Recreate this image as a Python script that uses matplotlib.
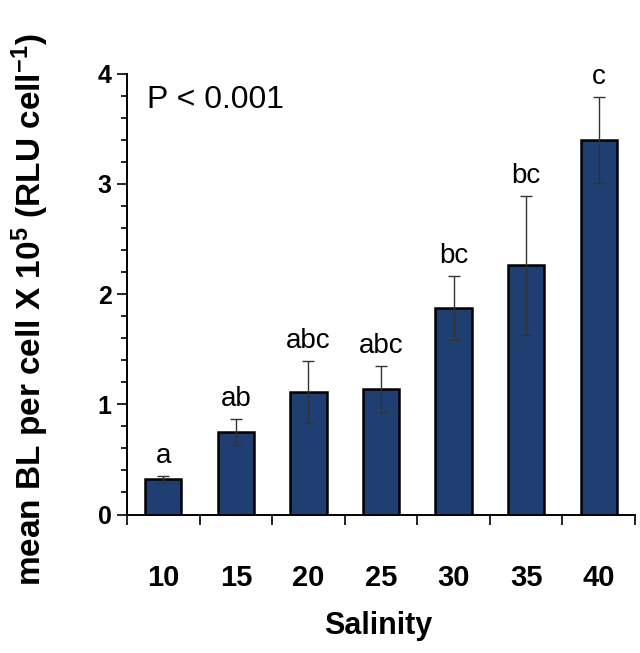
import matplotlib
import matplotlib.pyplot as plt
import numpy as np
from matplotlib.ticker import MultipleLocator

matplotlib.use("Agg")
plt.rcParams["mathtext.default"] = "regular"

salinity = ["10", "15", "20", "25", "30", "35", "40"]
mean_bl = [0.32, 0.75, 1.11, 1.14, 1.87, 2.26, 3.40]
err_bl = [0.03, 0.12, 0.28, 0.21, 0.29, 0.63, 0.39]
groups = ["a", "ab", "abc", "abc", "bc", "bc", "c"]

narrow = ["Liberation Sans Narrow", "Liberation Sans", "DejaVu Sans"]
plain = ["Liberation Sans", "DejaVu Sans"]

fig = plt.figure(figsize=(6.4, 6.53), dpi=100)
ax = fig.add_axes([127 / 640, 1 - 514.5 / 653, 508 / 640, 441 / 653])

x = np.arange(len(salinity))
ax.bar(x, mean_bl, width=0.5, color="#1f3f73", edgecolor="black", linewidth=1.8, zorder=2)
ax.errorbar(x, mean_bl, yerr=err_bl, fmt="none", ecolor="#333333", elinewidth=1.0,
            capsize=4, capthick=1.0, zorder=3)

for xi, m, e, g in zip(x, mean_bl, err_bl, groups):
    ax.annotate(g, (xi, m + e), xytext=(0, 5), textcoords="offset points",
                ha="center", va="bottom", fontsize=20, family=plain)

ax.set_xlim(-0.5, len(salinity) - 0.5)
ax.set_ylim(0, 4)
ax.set_xticks(x)
ax.set_xticklabels(salinity, family=narrow, fontweight="bold", fontsize=21)
ax.set_xticks(np.arange(len(salinity) + 1) - 0.5, minor=True)
ax.tick_params(axis="x", which="major", length=0, pad=36)
ax.tick_params(axis="x", which="minor", length=7, width=1.2, direction="out")

ax.yaxis.set_major_locator(MultipleLocator(1))
ax.yaxis.set_minor_locator(MultipleLocator(0.2))
ax.set_yticks([0, 1, 2, 3, 4])
ax.set_yticklabels(["0", "1", "2", "3", "4"], family=narrow, fontweight="bold", fontsize=18)
ax.tick_params(axis="y", which="major", length=7, width=1.2, pad=4)
ax.tick_params(axis="y", which="minor", length=4.5, width=1.2)

for side in ("top", "right"):
    ax.spines[side].set_visible(False)
for side in ("left", "bottom"):
    ax.spines[side].set_linewidth(1.4)

ax.text(0.04, 0.975, "P < 0.001", transform=ax.transAxes, ha="left", va="top",
        fontsize=23, family=plain)

fig.text(378 / 640, 1 - 626 / 653, "Salinity", ha="center", va="center",
         fontsize=22, fontweight="bold", family=narrow)
fig.text(30 / 640, 1 - 310 / 653, r"mean BL per cell X 10$^{5}$ (RLU cell$^{-1}$)",
         rotation=90, ha="center", va="center", fontsize=24, fontweight="bold", family=plain)

fig.savefig("out.png", dpi=100)
